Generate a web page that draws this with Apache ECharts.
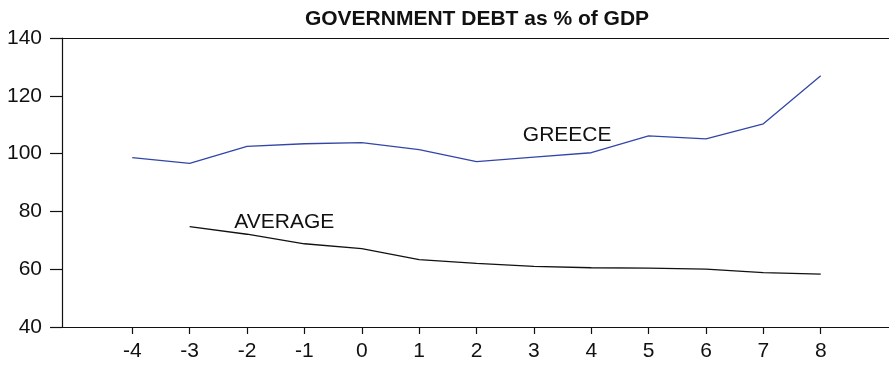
<!DOCTYPE html>
<html>
<head>
<meta charset="utf-8">
<script src="https://cdn.jsdelivr.net/npm/echarts@6/dist/echarts.min.js"></script>
<style>
  html, body { margin: 0; padding: 0; background: #fff; }
  #chart-ctn { width: 889px; height: 366px; }
</style>
</head>
<body>
<div id="chart-ctn"></div>
<script>
var years = [-4, -3, -2, -1, 0, 1, 2, 3, 4, 5, 6, 7, 8];
var greece = [98.6, 96.6, 102.5, 103.4, 103.8, 101.4, 97.2, 98.8, 100.3, 106.1, 105.1, 110.3, 126.9];
var average = [null, 74.7, 72.1, 68.8, 67.1, 63.3, 62.0, 61.0, 60.5, 60.4, 60.0, 58.8, 58.3];

function pairs(xs, ys) {
  var out = [];
  for (var i = 0; i < xs.length; i++) {
    if (ys[i] !== null) out.push([xs[i], ys[i]]);
  }
  return out;
}

// series name written inside the plot, like the original figure
function tag(text, x, y) {
  return {
    symbol: 'circle',
    symbolSize: 1,
    itemStyle: { color: 'rgba(0,0,0,0)' },
    data: [{ coord: [x, y], value: text }],
    label: { show: true, position: 'inside', formatter: text, fontFamily: font, fontSize: 21, color: '#111' }
  };
}

var font = 'Liberation Sans, Arial, sans-serif';
var myChart = echarts.init(document.getElementById('chart-ctn'));

var option = {
  animation: false,
  title: {
    text: 'GOVERNMENT DEBT as % of GDP',
    left: 472,
    textAlign: 'center',
    top: 4,
    textStyle: { fontFamily: font, fontSize: 21, fontWeight: 'bold', color: '#111' }
  },
  grid: { left: 62, right: 0, top: 38, bottom: 39 },
  xAxis: [{
    type: 'value',
    min: -5.225,
    max: 9.19,
    splitLine: { show: false },
    axisLine: { onZero: false, lineStyle: { color: '#111', width: 1.2 } },
    axisTick: { show: true, length: 7, lineStyle: { color: '#111', width: 1.2 }, customValues: years },
    axisLabel: { customValues: years, margin: 14, fontFamily: font, fontSize: 21, color: '#111' }
  }, {
    type: 'value',
    position: 'top',
    min: -5.225,
    max: 9.19,
    splitLine: { show: false },
    axisLine: { show: true, onZero: false, lineStyle: { color: '#111', width: 1.2 } },
    axisTick: { show: false },
    axisLabel: { show: false }
  }],
  yAxis: {
    type: 'value',
    min: 40,
    max: 140,
    interval: 20,
    splitLine: { show: false },
    axisLine: { show: true, onZero: false, lineStyle: { color: '#111', width: 1.2 } },
    axisTick: { show: true, length: 12, lineStyle: { color: '#111', width: 1.2 } },
    axisLabel: { margin: 20, fontFamily: font, fontSize: 21, color: '#111' }
  },
  series: [{
    name: 'GREECE',
    type: 'line',
    data: pairs(years, greece),
    symbol: 'none',
    lineStyle: { color: '#3346a8', width: 1.3 },
    markPoint: tag('GREECE', 3.58, 106.4)
  }, {
    name: 'AVERAGE',
    type: 'line',
    data: pairs(years, average),
    symbol: 'none',
    lineStyle: { color: '#111', width: 1.3 },
    markPoint: tag('AVERAGE', -1.35, 76.1)
  }]
};
myChart.setOption(option);
</script>
</body>
</html>
